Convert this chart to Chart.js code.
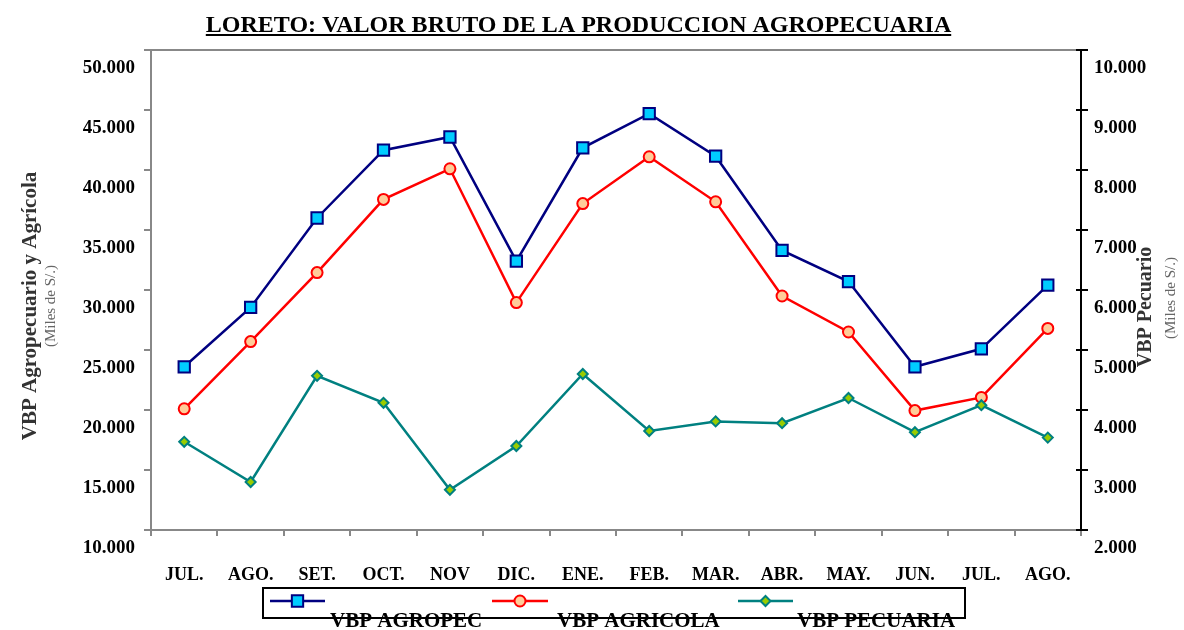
<!DOCTYPE html>
<html><head><meta charset="utf-8">
<script src="https://cdn.jsdelivr.net/npm/chart.js@4/dist/chart.umd.min.js"></script>
<style>html,body{margin:0;padding:0;background:#fff;} #wrap{position:relative;width:1184px;height:630px;overflow:hidden;}</style>
</head><body><div id="wrap"><canvas id="c" width="1184" height="630"></canvas></div>
<script>
const categories = ['JUL.','AGO.','SET.','OCT.','NOV','DIC.','ENE.','FEB.','MAR.','ABR.','MAY.','JUN.','JUL.','AGO.'];
const vbpAgropec  = [23600, 28550, 36000, 41650, 42750, 32400, 41850, 44700, 41150, 33300, 30700, 23600, 25100, 30400];
const vbpAgricola = [20100, 25700, 31450, 37550, 40100, 28950, 37200, 41100, 37350, 29500, 26500, 19950, 21050, 26800];
const vbpPecuaria = [3470, 2800, 4570, 4120, 2670, 3400, 4600, 3650, 3810, 3780, 4200, 3630, 4080, 3540];
const leftTicks  = [10000, 15000, 20000, 25000, 30000, 35000, 40000, 45000, 50000];
const rightTicks = [2000, 3000, 4000, 5000, 6000, 7000, 8000, 9000, 10000];
const seriesNames = ['VBP AGROPEC', 'VBP AGRICOLA', 'VBP PECUARIA'];
const titleText = 'LORETO: VALOR BRUTO DE LA PRODUCCION AGROPECUARIA';
const leftTitle = ['VBP Agropecuario y Agrícola', '(Miles de S/.)'];
const rightTitle = ['VBP Pecuario', '(Miles de S/.)'];

const SERIF = "'Liberation Serif', 'Times New Roman', serif";
const fmt = v => Math.floor(v/1000) + '.' + String(v % 1000).padStart(3, '0');

const styles = [
  {line:'#000080', fill:'#00CCFF', shape:'rect', r:8},
  {line:'#FF0000', fill:'#FFCC99', shape:'circle', r:5.5},
  {line:'#008080', fill:'#99CC00', shape:'rectRot', r:5}
];

function marker(ctx, shape, x, y, r, fill, stroke){
  ctx.save();
  ctx.fillStyle = fill; ctx.strokeStyle = stroke; ctx.lineWidth = 2;
  ctx.beginPath();
  if (shape === 'rect') { const s = r*Math.SQRT1_2; ctx.rect(x-s, y-s, 2*s, 2*s); }
  else if (shape === 'circle') { ctx.arc(x, y, r, 0, Math.PI*2); }
  else { ctx.moveTo(x-r, y); ctx.lineTo(x, y-r); ctx.lineTo(x+r, y); ctx.lineTo(x, y+r); ctx.closePath(); }
  ctx.fill(); ctx.stroke();
  ctx.restore();
}

const deco = {
  id: 'deco',
  afterDraw(chart){
    const ctx = chart.ctx, ca = chart.chartArea;
    ctx.save();
    ctx.strokeStyle = '#888'; ctx.lineWidth = 2;
    ctx.beginPath(); ctx.moveTo(ca.left, ca.top); ctx.lineTo(ca.right, ca.top); ctx.stroke();
    const y1 = chart.scales.y1;
    ctx.strokeStyle = '#000'; ctx.lineWidth = 2;
    rightTicks.forEach(v => { const py = Math.round(y1.getPixelForValue(v)); ctx.beginPath(); ctx.moveTo(ca.right-5, py); ctx.lineTo(ca.right, py); ctx.stroke(); });
    ctx.fillStyle = '#000'; ctx.font = 'bold 24px ' + SERIF; ctx.textAlign = 'center'; ctx.textBaseline = 'alphabetic';
    const tx = 578.5, ty = 32;
    ctx.fillText(titleText, tx, ty);
    const tw = ctx.measureText(titleText).width;
    ctx.lineWidth = 2; ctx.beginPath(); ctx.moveTo(tx - tw/2, ty + 3); ctx.lineTo(tx + tw/2, ty + 3); ctx.stroke();
    function vtext(lines, xs, yc, fonts, colors){
      lines.forEach((t, i) => {
        ctx.save(); ctx.translate(xs[i], yc[i]); ctx.rotate(-Math.PI/2);
        ctx.font = fonts[i]; ctx.fillStyle = colors[i]; ctx.textAlign = 'center'; ctx.textBaseline = 'middle';
        ctx.fillText(t, 0, 0); ctx.restore();
      });
    }
    vtext(leftTitle, [31, 51], [306, 306], ['bold 21px ' + SERIF, '15px ' + SERIF], ['#333', '#666']);
    vtext(rightTitle, [1146, 1171], [307, 298], ['bold 20px ' + SERIF, '15px ' + SERIF], ['#333', '#666']);
    ctx.strokeStyle = '#000'; ctx.lineWidth = 2;
    ctx.strokeRect(263, 588, 702, 30);
    const items = [{x0:270, x1:325, tx:330}, {x0:492, x1:548, tx:557}, {x0:738, x1:793, tx:797}];
    items.forEach((it, i) => {
      const st = styles[i];
      ctx.strokeStyle = st.line; ctx.lineWidth = 2.5;
      ctx.beginPath(); ctx.moveTo(it.x0, 601); ctx.lineTo(it.x1, 601); ctx.stroke();
      marker(ctx, st.shape, (it.x0+it.x1)/2, 601, st.r, st.fill, st.line);
      ctx.fillStyle = '#000'; ctx.font = 'bold 21px ' + SERIF; ctx.textAlign = 'left'; ctx.textBaseline = 'alphabetic';
      ctx.fillText(seriesNames[i], it.tx, 627);
    });
    ctx.restore();
  }
};

const dsCommon = { borderWidth: 2.5, pointBorderWidth: 2, tension: 0, fill: false };
new Chart(document.getElementById('c'), {
  type: 'line',
  data: {
    labels: categories,
    datasets: [
      Object.assign({label: seriesNames[0], data: vbpAgropec, yAxisID: 'y', borderColor: styles[0].line, pointStyle: 'rect', pointRadius: styles[0].r, pointBackgroundColor: styles[0].fill, pointBorderColor: styles[0].line, order: 1}, dsCommon),
      Object.assign({label: seriesNames[1], data: vbpAgricola, yAxisID: 'y', borderColor: styles[1].line, pointStyle: 'circle', pointRadius: styles[1].r, pointBackgroundColor: styles[1].fill, pointBorderColor: styles[1].line, order: 2}, dsCommon),
      Object.assign({label: seriesNames[2], data: vbpPecuaria, yAxisID: 'y1', borderColor: styles[2].line, pointStyle: 'rectRot', pointRadius: styles[2].r, pointBackgroundColor: styles[2].fill, pointBorderColor: styles[2].line, order: 0}, dsCommon)
    ]
  },
  options: {
    responsive: false, animation: false, devicePixelRatio: 1,
    layout: { padding: { top: 50, left: 0, right: 0, bottom: 0 } },
    plugins: { legend: { display: false }, title: { display: false }, tooltip: { enabled: false } },
    scales: {
      x: {
        type: 'category', offset: true,
        grid: { display: true, drawOnChartArea: false, drawTicks: true, tickLength: 6, color: '#888', lineWidth: 2, offset: true },
        border: { display: true, color: '#888', width: 2 },
        ticks: { color: '#000', font: { family: SERIF, size: 18, weight: 'bold' }, padding: 29, autoSkip: false, maxRotation: 0 },
        afterFit(s){ s.height = 100; }
      },
      y: {
        position: 'left', min: leftTicks[0], max: leftTicks[leftTicks.length-1],
        afterBuildTicks(s){ s.ticks = leftTicks.map(v => ({value: v})); },
        grid: { display: true, drawOnChartArea: false, drawTicks: true, tickLength: 7, color: '#888', lineWidth: 2 },
        border: { display: true, color: '#888', width: 2 },
        ticks: { color: '#000', font: { family: SERIF, size: 19, weight: 'bold' }, padding: 9, labelOffset: 18, autoSkip: false, callback: v => fmt(v) },
        afterFit(s){ s.width = 151; }
      },
      y1: {
        position: 'right', min: rightTicks[0], max: rightTicks[rightTicks.length-1],
        afterBuildTicks(s){ s.ticks = rightTicks.map(v => ({value: v})); },
        grid: { display: true, drawOnChartArea: false, drawTicks: true, tickLength: 7, color: '#000', lineWidth: 2 },
        border: { display: true, color: '#000', width: 2 },
        ticks: { color: '#000', font: { family: SERIF, size: 19, weight: 'bold' }, padding: 6, labelOffset: 18, autoSkip: false, callback: v => fmt(v) },
        afterFit(s){ s.width = 103; }
      }
    }
  },
  plugins: [deco]
});
</script>
</body></html>
